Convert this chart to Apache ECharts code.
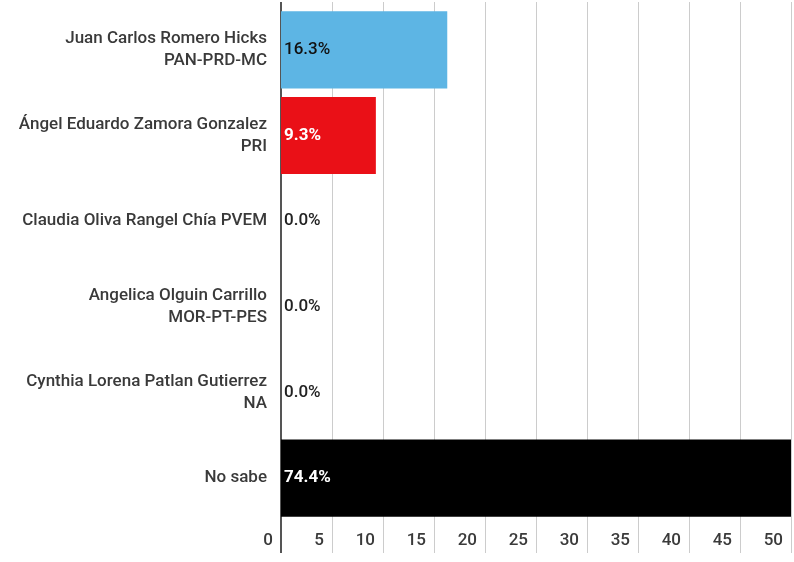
<!DOCTYPE html>
<html>
<head>
<meta charset="utf-8">
<script src="https://cdn.jsdelivr.net/npm/echarts@6/dist/echarts.min.js"></script>
<style>
html,body{margin:0;padding:0;background:#fff;}
#c{width:794px;height:562px;}
</style>
</head>
<body>
<div id="c"></div>
<script>
const categories = [
  'Juan Carlos Romero Hicks\nPAN-PRD-MC',
  'Ángel Eduardo Zamora Gonzalez\nPRI',
  'Claudia Oliva Rangel Chía PVEM',
  'Angelica Olguin Carrillo\nMOR-PT-PES',
  'Cynthia Lorena Patlan Gutierrez\nNA',
  'No sabe'
];
const values = [16.3, 9.3, 0.0, 0.0, 0.0, 74.4];
const xTicks = {min: 0, max: 50, interval: 5};

// styles (kept separate from the data)
const barColors = ['#5DB5E4', '#EA1017', '#000000', '#000000', '#000000', '#000000'];
const labelColors = ['#111111', '#ffffff', '#222222', '#222222', '#222222', '#ffffff'];
const labelWeights = ['500', 'bold', '500', '500', '500', 'bold'];

const FONT = 'Roboto';
const FS = 17;
const chart = echarts.init(document.getElementById('c'), null, {renderer: 'canvas'});

const seriesData = values.map((v, i) => ({
  value: v,
  itemStyle: {color: barColors[i]},
  label: {color: labelColors[i], fontWeight: labelWeights[i]}
}));

chart.setOption({
  animation: false,
  grid: {left: 281, right: 3, top: 7, bottom: 41, containLabel: false},
  xAxis: [
    {
      type: 'value', position: 'bottom',
      min: xTicks.min, max: xTicks.max, interval: xTicks.interval,
      axisLine: {show: false},
      axisTick: {show: true, length: 32, lineStyle: {color: '#cccccc', width: 1}},
      splitLine: {show: true, lineStyle: {color: '#cccccc', width: 1}},
      axisLabel: {
        show: true, align: 'right', margin: 11, padding: [0, 8, 0, 0],
        color: '#3a3a3a', fontSize: FS, fontFamily: FONT, fontWeight: '500'
      }
    },
    {
      type: 'value', position: 'bottom',
      min: xTicks.min, max: xTicks.max, interval: xTicks.interval,
      axisLine: {show: false},
      axisTick: {show: true, length: 32, customValues: [0], lineStyle: {color: '#555555', width: 2}},
      splitLine: {show: false},
      axisLabel: {show: false}
    },
    {
      type: 'value', position: 'top',
      min: xTicks.min, max: xTicks.max, interval: xTicks.interval,
      axisLine: {show: false},
      axisTick: {show: true, length: 5, lineStyle: {color: '#cccccc', width: 1}},
      splitLine: {show: false},
      axisLabel: {show: false}
    },
    {
      type: 'value', position: 'top',
      min: xTicks.min, max: xTicks.max, interval: xTicks.interval,
      axisLine: {show: false},
      axisTick: {show: true, length: 5, customValues: [0], lineStyle: {color: '#555555', width: 2}},
      splitLine: {show: false},
      axisLabel: {show: false}
    }
  ],
  yAxis: {
    type: 'category',
    data: categories,
    inverse: true,
    axisLine: {show: true, lineStyle: {color: '#555555', width: 2}},
    axisTick: {show: false},
    axisLabel: {
      color: '#3a3a3a', fontSize: FS, fontFamily: FONT, fontWeight: '500', margin: 14,
      lineHeight: 22, align: 'right'
    }
  },
  series: [{
    type: 'bar',
    xAxisIndex: 0,
    data: seriesData,
    barCategoryGap: '10%',
    clip: true,
    z: 3,
    label: {
      show: true,
      position: 'insideLeft',
      distance: 3,
      fontSize: FS,
      fontFamily: FONT,
      formatter: p => p.value.toFixed(1) + '%'
    }
  }]
});
</script>
</body>
</html>
